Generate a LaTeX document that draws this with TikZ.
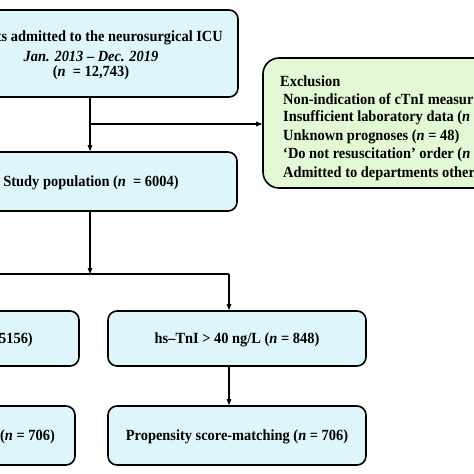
\documentclass[tikz,border=0pt]{standalone}
\usepackage{fontspec}
\setmainfont{Liberation Serif}[FakeStretch=0.93]
\usetikzlibrary{arrows.meta}
\definecolor{boxblue}{RGB}{222,245,251}
\definecolor{boxgreen}{RGB}{227,248,212}
\begin{document}
\begin{tikzpicture}[x=1pt,y=-1pt,
  box/.style={draw=black, line width=1.6pt, rounded corners=9pt, fill=boxblue, inner sep=0pt},
  exbox/.style={draw=black, line width=1.6pt, rounded corners=16pt, fill=boxgreen, inner sep=0pt},
  lbl/.style={font=\fontsize{15.5}{18}\selectfont\bfseries, align=center, inner sep=0pt},
  conn/.style={line width=1.1pt, -{Triangle[length=6pt,width=4.5pt]}},
  plainline/.style={line width=1.1pt}]
\useasboundingbox (0,0) rectangle (474,474);
\clip (0,0) rectangle (474,474);
\fill[white] (0,0) rectangle (474,474);
% boxes
\node[box, minimum width=296pt, minimum height=87pt] (top) at (90,53.5) {};
\node[box, minimum width=294pt, minimum height=59pt] (study) at (90,181.5) {};
\node[exbox, minimum width=267pt, minimum height=130pt] (ex) at (396.5,123) {};
\node[box, minimum width=260pt, minimum height=55pt] (lmid) at (-51,338.5) {};
\node[box, minimum width=258pt, minimum height=55pt] (hs) at (237,338.5) {};
\node[box, minimum width=252pt, minimum height=59pt] (lbot) at (-51,435.5) {};
\node[box, minimum width=258pt, minimum height=59pt] (psm) at (237,435.5) {};
% texts
\node[lbl, anchor=east] (t1) at (223,38) {ts admitted to the neurosurgical ICU};
\node[lbl] (t2) at (91,56) {\itshape Jan. 2013 -- Dec. 2019};
\node[lbl] (t3) at (91,73) {(\textit{n}~~= 12,743)};
\node[lbl] (st) at (91,183) {Study population (\textit{n}~~= 6004)};
\node[lbl, anchor=west] (e0) at (280,81) {Exclusion};
\node[lbl, anchor=west] (e1) at (283,99.5) {Non-indication of cTnI measur};
\node[lbl, anchor=west] (e2) at (283,118) {Insufficient laboratory data (\textit{n}};
\node[lbl, anchor=west] (e3) at (283,136.5) {Unknown prognoses (\textit{n} = 48)};
\node[lbl, anchor=west] (e4) at (283,155) {`Do not resuscitation' order (\textit{n}};
\node[lbl, anchor=west] (e5) at (283,173.5) {Admitted to departments other};
\node[lbl, anchor=east] (lm) at (33,340) {5156)};
\node[lbl] (hst) at (237,340) {hs--TnI > 40 ng/L (\textit{n} = 848)};
\node[lbl, anchor=east] (lb) at (55,437) {(\textit{n} = 706)};
\node[lbl] (pst) at (237,437) {Propensity score-matching (\textit{n} = 706)};
% connectors
\coordinate (br1) at (90,124);
\coordinate (br2) at (90,274);
\coordinate (br3) at (229,274);
\coordinate (lft) at (0,274);
\draw[conn] (top.south) -- (study.north);
\draw[conn] (br1) -- (br1 -| ex.west);
\draw[conn] (study.south) -- (br2);
\draw[plainline] (lft) -- (br3);
\draw[conn] (br3) -- (br3 |- hs.north);
\draw[conn] (hs.south -| br3) -- (psm.north -| br3);
\end{tikzpicture}
\end{document}
